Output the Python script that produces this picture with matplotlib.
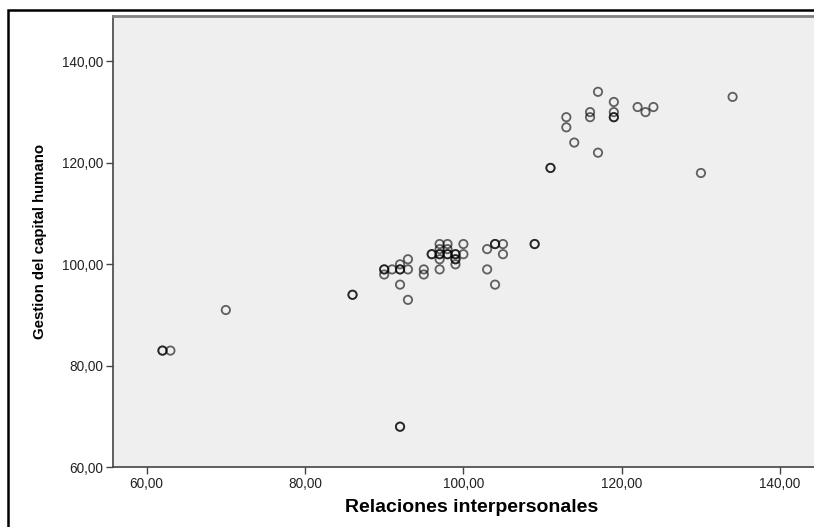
import matplotlib
matplotlib.use("Agg")
import matplotlib.pyplot as plt
from matplotlib.ticker import FuncFormatter
from matplotlib.patches import Rectangle

# Relaciones interpersonales (x) vs Gestion del capital humano (y)
relaciones = [62, 62, 63, 70, 86, 86, 92, 92, 90, 90, 90, 91, 92, 92, 92, 92,
              93, 93, 93, 95, 95, 96, 96, 97, 97, 98, 97, 98, 97, 97, 98, 98,
              97, 99, 99, 99, 99, 99, 100, 100, 103, 103, 104, 104, 105, 105,
              104, 109, 109, 111, 111, 113, 113, 114, 116, 116, 117, 117, 119,
              119, 119, 119, 122, 123, 124, 130, 134]
gestion = [83, 83, 83, 91, 94, 94, 68, 68, 99, 99, 98, 99, 100, 99, 99, 96,
           101, 99, 93, 99, 98, 102, 102, 99, 104, 104, 103, 103, 102, 102, 102,
           102, 101, 102, 102, 101, 101, 100, 104, 102, 103, 99, 104, 104, 104,
           102, 96, 104, 104, 119, 119, 129, 127, 124, 130, 129, 134, 122, 132,
           130, 129, 129, 131, 130, 131, 118, 133]

x_ticks = [60, 80, 100, 120, 140]
y_ticks = [60, 80, 100, 120, 140]

plt.rcParams['font.family'] = ['Liberation Sans', 'DejaVu Sans']

fig = plt.figure(figsize=(8.14, 5.27), dpi=100)
ax = fig.add_axes([113 / 814, 1 - 467.3 / 527, (830 - 113) / 814, (467.3 - 15.7) / 527])
ax.set_facecolor('#efefef')

ax.scatter(relaciones, gestion, s=36, facecolors='none', edgecolors='black',
           linewidths=1.3, alpha=0.6, zorder=3)

ax.set_xlim(55.75, 146.3)
ax.set_ylim(60, 149)
ax.set_xticks(x_ticks)
ax.set_yticks(y_ticks)
fmt = FuncFormatter(lambda v, p: f"{v:.2f}".replace('.', ','))
ax.xaxis.set_major_formatter(fmt)
ax.yaxis.set_major_formatter(fmt)
ax.tick_params(direction='out', length=5, width=1, color='#444444',
               labelsize=9.8, labelcolor='#222222', pad=2)

for side in ['left', 'bottom']:
    ax.spines[side].set_color('#444444')
    ax.spines[side].set_linewidth(1.2)
ax.spines['top'].set_color('#808080')
ax.spines['top'].set_linewidth(2)
ax.spines['right'].set_visible(False)

ax.set_xlabel("Relaciones interpersonales", fontsize=14, fontweight='bold', labelpad=6)
ax.set_ylabel("Gestion del capital humano", fontsize=10.8, fontweight='bold', labelpad=11)

# outer frame of the exported chart
fig.patches.append(Rectangle((8 / 814, -0.1), 1.2, 1 - 10 / 527 + 0.1,
                             transform=fig.transFigure, fill=False,
                             edgecolor='black', linewidth=1.8))

fig.savefig("out.png", dpi=100)
